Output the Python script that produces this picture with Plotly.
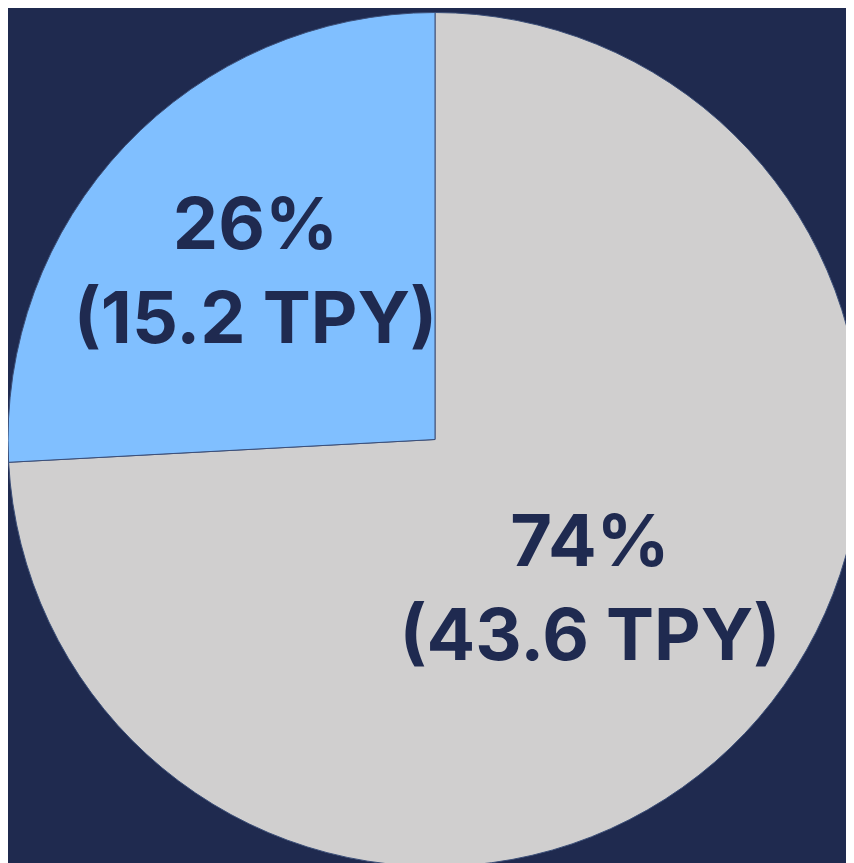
import plotly.graph_objects as go

# share of emissions, tons per year
labels = ["Share B", "Share A"]
values = [43.6, 15.2]
colors = ["#d0cfcf", "#80bfff"]

bg = "#1f2a4f"

fig = go.Figure()

fig.add_trace(go.Pie(
    labels=labels,
    values=values,
    sort=False,
    direction="clockwise",
    rotation=0,
    marker=dict(colors=colors, line=dict(color="#3c4f78", width=1)),
    texttemplate="%{percent:.0%}<br>(%{value:.1f} TPY)",
    textposition="inside",
    insidetextorientation="horizontal",
    textfont=dict(family="Inter", size=72, color="#1f2a50", weight=700),
    hoverinfo="skip",
    showlegend=False,
    domain=dict(x=[0, 1], y=[0, 1]),
))

fig.update_layout(
    width=854,
    height=863,
    margin=dict(l=0, r=0, t=0, b=0),
    paper_bgcolor=bg,
    plot_bgcolor=bg,
    uniformtext=dict(minsize=72, mode="show"),
)

fig.write_html("out.html")
